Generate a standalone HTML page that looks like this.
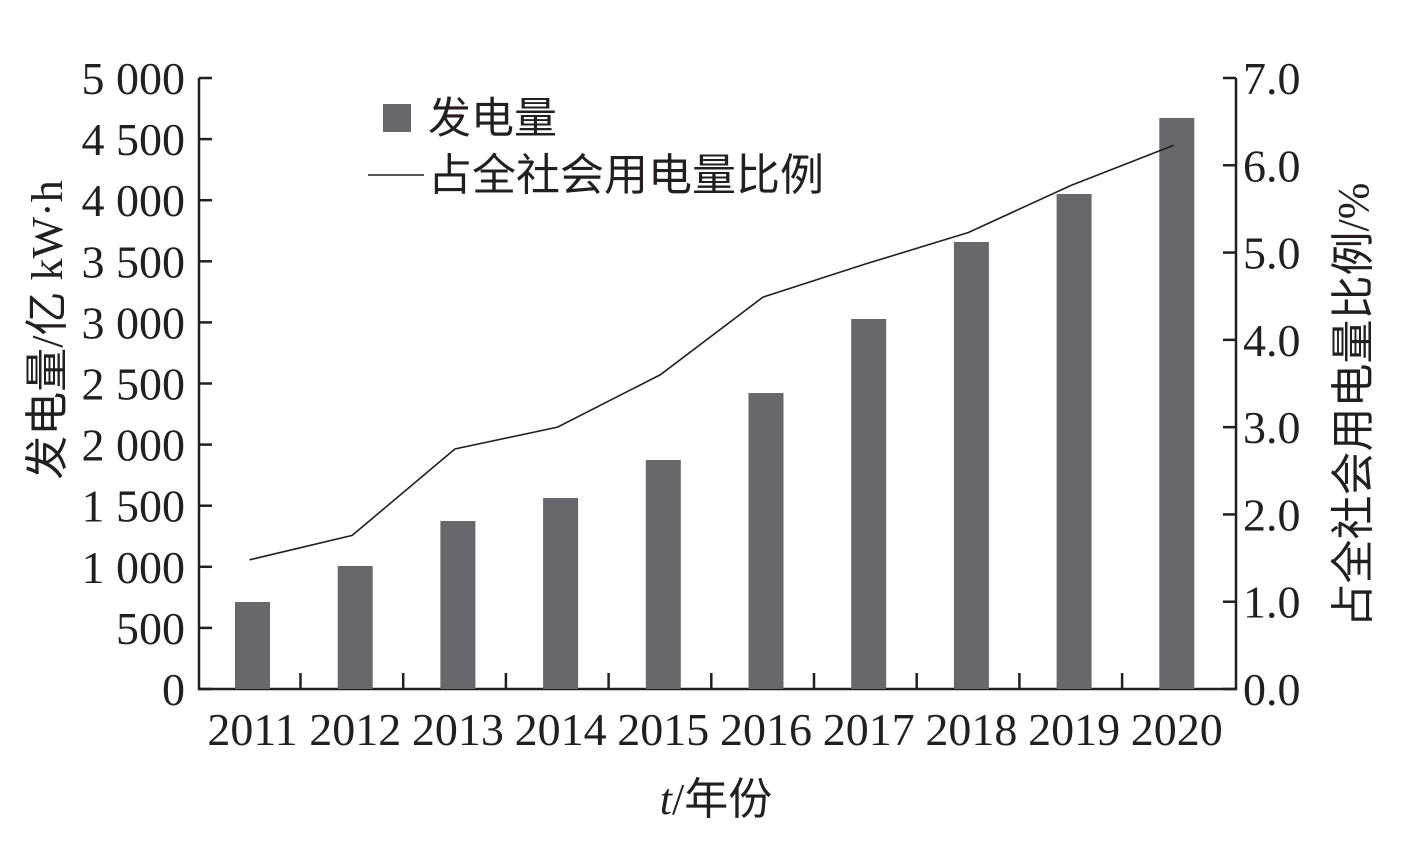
<!DOCTYPE html>
<html><head><meta charset="utf-8">
<style>
html,body{margin:0;padding:0;background:#fff;}
svg text{font-family:"Liberation Serif","Noto Serif CJK SC",serif;fill:#231f20;}
.cj{font-family:"Noto Sans CJK SC","WenQuanYi Zen Hei",sans-serif;}
</style></head>
<body>
<svg id="chart" width="1408" height="837" viewBox="0 0 1408 837" xmlns="http://www.w3.org/2000/svg">
<g id="axes"></g>
<g id="bars"></g>
<g id="line"></g>
<g>
 <rect x="383" y="104" width="28" height="28" fill="#68686c"/>
 <text x="428" y="133" font-size="43" class="cj">发电量</text>
 <line x1="368" y1="175" x2="424" y2="175" stroke="#231f20" stroke-width="1.6"/>
 <text x="428" y="190" font-size="44" class="cj">占全社会用电量比例</text>
</g>
<text transform="translate(62,330) rotate(-90)" text-anchor="middle" font-size="44"><tspan class="cj">发电量</tspan>/<tspan class="cj">亿</tspan> kW·h</text>
<text transform="translate(1368,405) rotate(-90)" text-anchor="middle" font-size="44"><tspan class="cj">占全社会用电量比例</tspan>/%</text>
<text x="716" y="814" text-anchor="middle" font-size="44"><tspan font-style="italic">t</tspan>/<tspan class="cj">年份</tspan></text>
</svg>
<script>
const years=["2011","2012","2013","2014","2015","2016","2017","2018","2019","2020"];
const generation=[712,1007,1375,1563,1874,2422,3028,3658,4051,4673];
const share=[1.48,1.76,2.75,3.0,3.6,4.49,4.87,5.23,5.77,6.23];
const leftTicks=["0","500","1 000","1 500","2 000","2 500","3 000","3 500","4 000","4 500","5 000"];
const rightTicks=["0.0","1.0","2.0","3.0","4.0","5.0","6.0","7.0"];
const NS="http://www.w3.org/2000/svg";
const X0=199,X1=1236,Y0=689,Y1=78;
const yL=v=>Y0-(v/5000)*(Y0-Y1);
const yR=v=>Y0-(v/7)*(Y0-Y1);
const xC=i=>252.5+i*102.7;
function mk(tag,attrs,parent){const e=document.createElementNS(NS,tag);for(const k in attrs)e.setAttribute(k,attrs[k]);parent.appendChild(e);return e;}
const axes=document.getElementById('axes');
let e;
e=mk('path',{d:`M${X0},${Y1}V${Y0}H${X1}V${Y1}`,fill:'none',stroke:'#231f20','stroke-width':2.5},axes);


leftTicks.forEach((t,i)=>{const v=i*500,y=yL(v);
 e=mk('line',{x1:X0,x2:X0+13,y1:y,y2:y,stroke:'#231f20','stroke-width':2.5},axes);
 
 
 e=mk('text',{x:185,y:y+16,'text-anchor':'end','font-size':46},axes);e.textContent=t;
 
 
});
rightTicks.forEach((t,i)=>{const y=yR(i);
 e=mk('line',{x1:X1-13,x2:X1,y1:y,y2:y,stroke:'#231f20','stroke-width':2.5},axes);
 
 
 e=mk('text',{x:1243,y:y+16,'font-size':46},axes);e.textContent=t;
 
 
});
years.forEach((yr,i)=>{
 if(i<years.length-1){const x=xC(i)+48;
  e=mk('line',{x1:x,x2:x,y1:Y0,y2:Y0-16,stroke:'#231f20','stroke-width':2.5},axes);
  
  }
 e=mk('text',{x:xC(i),y:745,'text-anchor':'middle','font-size':46},axes);e.textContent=yr;
 
 
});
const bars=document.getElementById('bars');
generation.forEach((v,i)=>{
 e=mk('rect',{x:xC(i)-17.5,y:yL(v),width:35,height:Y0-yL(v),fill:'#68686c'},bars);
 
 
});
const pts=share.map((v,i)=>`${xC(i)-3},${yR(v)}`).join(' ');
e=mk('polyline',{points:pts,fill:'none',stroke:'#231f20','stroke-width':1.6},document.getElementById('line'));


</script>
</body></html>
